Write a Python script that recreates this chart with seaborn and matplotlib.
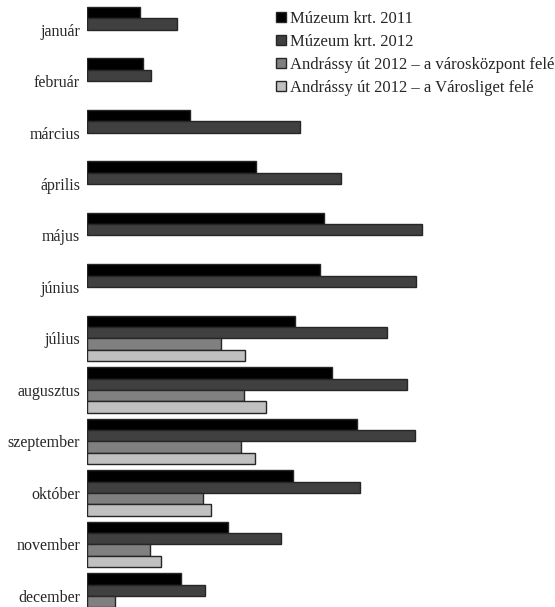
import numpy as np
import pandas as pd
import matplotlib
matplotlib.use("Agg")
import matplotlib.pyplot as plt
import seaborn as sns

months = ["január", "február", "március", "április", "május", "június",
          "július", "augusztus", "szeptember", "október", "november", "december"]
series = ["Múzeum krt. 2011", "Múzeum krt. 2012",
          "Andrássy út 2012 – a városközpont felé",
          "Andrássy út 2012 – a Városliget felé"]

muzeum_2011 = [53, 56, 103, 169, 237, 233, 208, 245, 270, 206, 141, 94]
muzeum_2012 = [90, 64, 213, 254, 335, 329, 300, 320, 328, 273, 194, 118]
andrassy_belvaros = [np.nan] * 6 + [134, 157, 154, 116, 63, 28]
andrassy_liget = [np.nan] * 6 + [158, 179, 168, 124, 74, np.nan]

colors = ["#000000", "#404040", "#808080", "#c0c0c0"]

rows = []
for name, vals in zip(series, [muzeum_2011, muzeum_2012, andrassy_belvaros, andrassy_liget]):
    for m, v in zip(months, vals):
        rows.append({"month": m, "value": v, "series": name})
df = pd.DataFrame(rows)

sns.set_style("white")
plt.rcParams["font.family"] = ["Liberation Serif", "DejaVu Serif"]

fig = plt.figure(figsize=(5.55, 6.07), dpi=100)
ax = fig.add_axes([87 / 555, 0, 1 - 87 / 555, 1])

sns.barplot(data=df, y="month", x="value", hue="series", hue_order=series,
            order=months, orient="h", palette=colors, width=0.875,
            edgecolor="#262626", linewidth=1, ax=ax, legend=True)

ax.set_xlim(0, 468)
ax.set_ylim(11.214, -0.573)
ax.set_xlabel("")
ax.set_ylabel("")
ax.set_xticks([])
ax.tick_params(axis="y", length=0, pad=5, labelsize=11.5)
for s in ax.spines.values():
    s.set_visible(False)

ax.legend(loc="upper left", bbox_to_anchor=(0.38, 1.0), frameon=False,
          fontsize=12, handlelength=0.62, handleheight=0.62,
          handletextpad=0.25, labelspacing=0.42, borderaxespad=0.25)

fig.savefig("out.png", dpi=100)
